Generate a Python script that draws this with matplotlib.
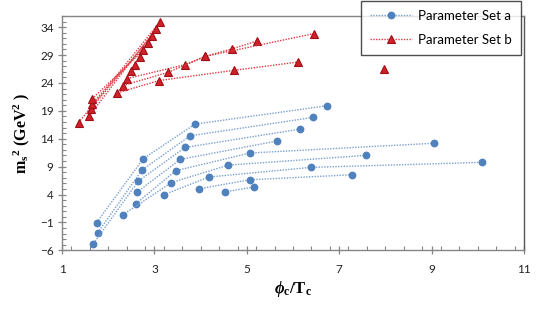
import matplotlib
matplotlib.use("Agg")
import matplotlib.pyplot as plt
from matplotlib.ticker import MultipleLocator

# ---- Parameter Set a (blue circles), one list per curve ----
a_x = [
    [1.75, 2.76, 3.88, 6.74],
    [1.77, 2.73, 3.77, 6.44],
    [1.68, 2.65, 3.66, 6.15],
    [2.62, 3.56, 5.66],
    [2.60, 3.46, 5.07, 9.05],
    [2.31, 3.37, 4.60, 7.59],
    [3.21, 4.18, 6.38, 10.09],
    [3.96, 5.06, 7.28],
    [4.52, 5.15],
]
a_y = [
    [-1.02, 10.43, 16.62, 19.92],
    [-2.88, 8.37, 14.51, 17.83],
    [-4.81, 6.38, 12.43, 15.72],
    [4.40, 10.30, 13.60],
    [2.36, 8.26, 11.44, 13.19],
    [0.32, 6.15, 9.27, 11.02],
    [3.98, 7.14, 8.86, 9.76],
    [5.01, 6.64, 7.54],
    [4.47, 5.34],
]

# ---- Parameter Set b (red triangles), one list per curve ----
b_x = [
    [1.36, 3.12],
    [1.58, 3.03],
    [1.62, 2.94],
    [1.64, 2.86],
    [1.65, 2.76],
    [2.68],
    [2.58],
    [2.49],
    [2.41, 3.66, 4.10, 4.68, 5.22],
    [2.32, 3.30, 4.10, 6.46],
    [2.20, 3.10, 4.73, 6.11],
    [7.97],
]
b_y = [
    [16.89, 34.97],
    [18.01, 33.64],
    [19.33, 32.45],
    [20.23, 31.11],
    [21.13, 29.85],
    [28.59],
    [27.27],
    [26.06],
    [24.79, 27.27, 28.76, 30.12, 31.51],
    [23.53, 25.91, 28.76, 32.86],
    [22.21, 24.43, 26.27, 27.75],
    [26.53],
]

labels = ["Parameter Set a", "Parameter Set b"]
x_ticks = [1, 3, 5, 7, 9, 11]
y_ticks = [-6, -1, 4, 9, 14, 19, 24, 29, 34]

plt.rcParams["mathtext.fontset"] = "custom"
plt.rcParams["mathtext.rm"] = "Liberation Serif:bold"
plt.rcParams["mathtext.bf"] = "Liberation Serif:bold"
plt.rcParams["mathtext.it"] = "Liberation Serif:bold:italic"

fig = plt.figure(figsize=(5.38, 3.12), dpi=100)
ax = fig.add_axes([62 / 538, 1 - 250.3 / 312, (524 - 62) / 538, (250.3 - 16) / 312])

blue = "#4F81BD"

for i, (xs, ys) in enumerate(zip(a_x, a_y)):
    ax.plot(xs, ys, linestyle=(0, (1, 1)), color="#7AA0D0", linewidth=1.0,
            marker="o", markersize=4.6, markerfacecolor=blue, markeredgecolor=blue,
            label=labels[0] if i == 0 else None, zorder=3)

for i, (xs, ys) in enumerate(zip(b_x, b_y)):
    ax.plot(xs, ys, linestyle=(0, (1, 1)), color="#DC3A42", linewidth=1.0,
            marker="^", markersize=6, markerfacecolor="#D0202A", markeredgecolor="#A00F16",
            markeredgewidth=0.8, label=labels[1] if i == 0 else None, zorder=4)

ax.set_xlim(1, 11)
ax.set_ylim(-6, 36)
ax.set_xticks(x_ticks)
ax.set_yticks(y_ticks)
ax.xaxis.set_minor_locator(MultipleLocator(0.4))
ax.yaxis.set_minor_locator(MultipleLocator(1))

for s in ax.spines.values():
    s.set_color("#868686")
    s.set_linewidth(1.0)
ax.spines["right"].set_color("#555555")

ax.tick_params(which="major", direction="inout", length=6, width=0.9, color="#868686",
               labelsize=8.5, labelcolor="#222222", pad=3)
ax.tick_params(which="minor", direction="in", length=3, width=0.8, color="#868686")
ax.tick_params(axis="x", which="major", pad=7)
for lab in ax.get_xticklabels() + ax.get_yticklabels():
    lab.set_family("Lato")

ax.set_xlabel(r"$\phi_\mathbf{c}$/T$_\mathbf{c}$", fontsize=12, fontweight="bold",
              family="Liberation Serif", labelpad=3)
ax.set_ylabel(r"m$_\mathbf{s}$$^\mathbf{2}$ (GeV$^\mathbf{2}$ )", fontsize=11.5,
              fontweight="bold", family="Liberation Serif", labelpad=6)

leg = fig.legend(loc="upper left", bbox_to_anchor=(361 / 538, 1 - 1 / 312),
                 bbox_transform=fig.transFigure, frameon=True, fancybox=False,
                 prop={"family": "Lato", "size": 9.5}, handlelength=3.2,
                 borderpad=0.65, labelspacing=0.95, handletextpad=0.5, borderaxespad=0.0)
leg.get_frame().set_edgecolor("#222222")
leg.get_frame().set_linewidth(1.0)
leg.set_zorder(10)

fig.savefig("out.png", dpi=100)
